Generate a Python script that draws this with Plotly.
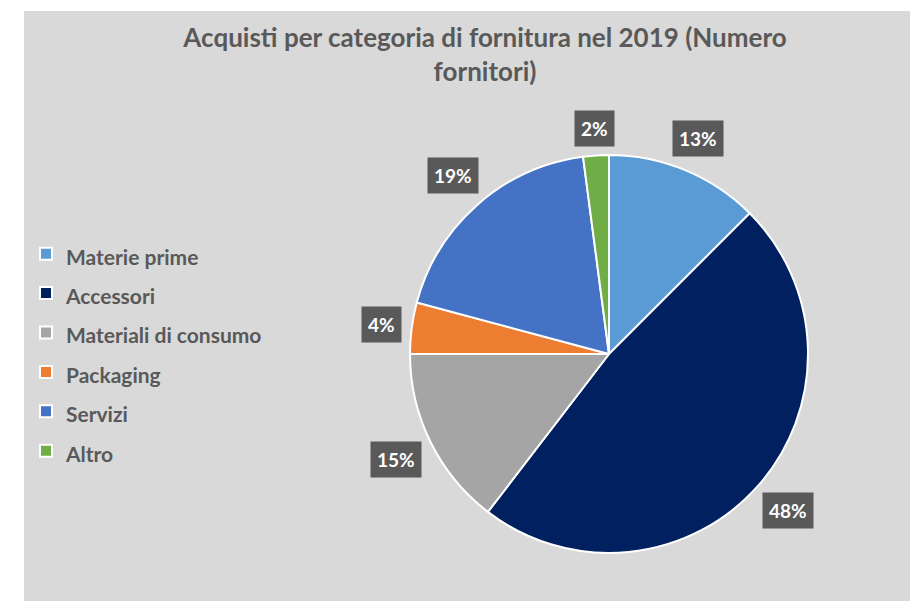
import math
import plotly.graph_objects as go

# ---- data ----
categories = ["Materie prime", "Accessori", "Materiali di consumo", "Packaging", "Servizi", "Altro"]
suppliers = [6, 23, 7, 2, 9, 1]
colors = ["#5B9BD5", "#002060", "#A5A5A5", "#ED7D31", "#4472C4", "#70AD47"]
title_text = "Acquisti per categoria di fornitura nel 2019 (Numero<br>fornitori)"

# the page body adds an 8px margin, so the figure is sized to fill the window
W, H = 910, 593
FONT = "Lato"
GREY_TXT = "#595959"

# pie geometry in figure pixels
cx, cy, r = 601, 346, 199
dom_x = [(cx - r) / W, (cx + r) / W]
dom_y = [1 - (cy + r) / H, 1 - (cy - r) / H]

legend_labels = [f'<span style="font-size:21px">{c}</span>' for c in categories]

fig = go.Figure(go.Pie(
    labels=legend_labels,
    values=suppliers,
    sort=False,
    direction="clockwise",
    rotation=0,
    marker=dict(colors=colors, line=dict(color="white", width=2)),
    textinfo="none",
    hovertemplate="%{label}: %{value} (%{percent:.0%})<extra></extra>",
    domain=dict(x=dom_x, y=dom_y),
))

# percentage label boxes placed just outside each slice (best-fit style)
total = sum(suppliers)
annotations = []
cum = 0
for v in suppliers:
    mid = (cum + v / 2) / total * 2 * math.pi
    cum += v
    pct = int(v * 100 / total + 0.5)
    txt = f"{pct}%"
    half_w = (len(txt) * 12 + 14) / 2
    half_h = 17
    extent = abs(math.sin(mid)) * half_w + abs(math.cos(mid)) * half_h
    d = r + 9 + extent
    px = cx + d * math.sin(mid)
    py = cy - d * math.cos(mid)
    annotations.append(dict(
        x=px / W, y=1 - py / H, xref="paper", yref="paper",
        xanchor="center", yanchor="middle", showarrow=False,
        text=f"<b>{txt}</b>",
        font=dict(family=FONT, size=19, color="white"),
        bgcolor="#595959", borderpad=6,
    ))

fig.update_layout(
    width=W, height=H,
    margin=dict(l=0, r=0, t=0, b=0),
    paper_bgcolor="white",
    plot_bgcolor="white",
    font=dict(family=FONT, color=GREY_TXT),
    title=dict(
        text=f"<b>{title_text}</b>",
        x=477 / W, xanchor="center",
        y=1 - 39 / H, yanchor="top", yref="container",
        font=dict(family=FONT, size=26, color=GREY_TXT),
    ),
    legend=dict(
        x=18 / W, xanchor="left",
        y=1 - 221 / H, yanchor="top",
        font=dict(family=FONT, size=28, color=GREY_TXT, weight="bold"),
        bgcolor="rgba(0,0,0,0)",
        traceorder="normal",
    ),
    shapes=[dict(
        type="rect", xref="paper", yref="paper", layer="below",
        x0=16 / W, x1=1, y0=0, y1=1 - 3 / H,
        fillcolor="#D9D9D9", line=dict(width=0),
    )],
    annotations=annotations,
)

fig.write_html("out.html")
